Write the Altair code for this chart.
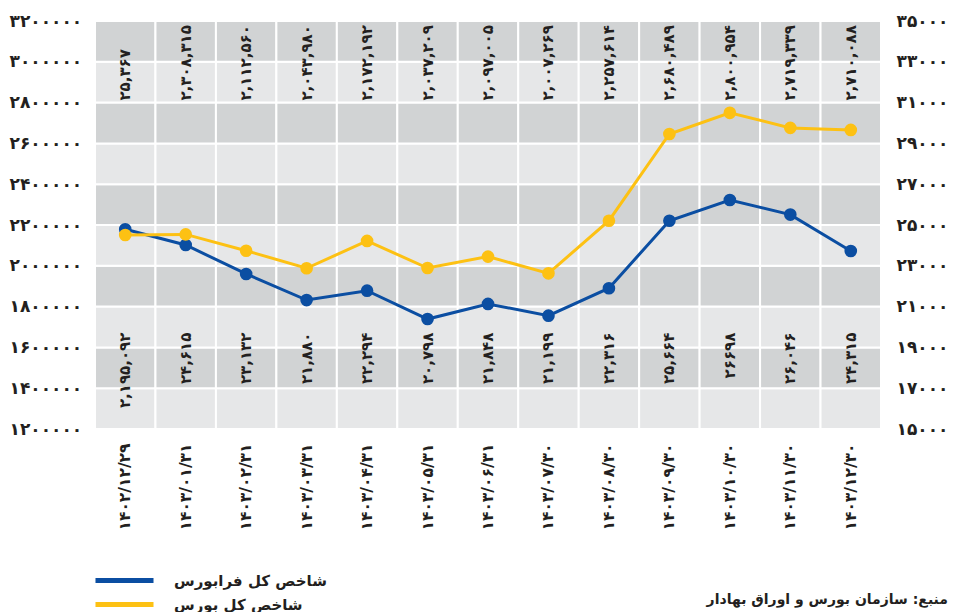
import altair as alt
import pandas as pd

dates = ["۱۴۰۲/۱۲/۲۹", "۱۴۰۳/۰۱/۳۱", "۱۴۰۳/۰۲/۳۱", "۱۴۰۳/۰۳/۳۱", "۱۴۰۳/۰۴/۳۱",
         "۱۴۰۳/۰۵/۳۱", "۱۴۰۳/۰۶/۳۱", "۱۴۰۳/۰۷/۳۰", "۱۴۰۳/۰۸/۳۰", "۱۴۰۳/۰۹/۳۰",
         "۱۴۰۳/۱۰/۳۰", "۱۴۰۳/۱۱/۳۰", "۱۴۰۳/۱۲/۳۰"]

# values
farabourse_values = [24790, 24020, 22600, 21320, 21780, 20390, 21130, 20555, 21900,
                     25210, 26225, 25510, 23725]
bourse_values = [2151000, 2154000, 2074000, 1988000, 2122000, 1989000, 2045000,
                 1963000, 2221000, 2646000, 2750000, 2676000, 2666000]

top_labels = ["۲۵,۳۶۷", "۲,۳۰۸,۳۱۵", "۲,۱۱۲,۵۶۰", "۲,۰۴۳,۹۸۰", "۲,۱۷۲,۱۹۲",
              "۲,۰۳۷,۲۰۹", "۲,۰۹۷,۰۰۵", "۲,۰۰۷,۲۶۹", "۲,۲۵۷,۶۱۴", "۲,۶۸۰,۴۸۹",
              "۲,۸۰۰,۹۵۴", "۲,۷۱۹,۳۳۹", "۲,۷۱۰,۰۸۸"]
bottom_labels = ["۲,۱۹۵,۰۹۲", "۲۴,۶۱۵", "۲۳,۱۳۲", "۲۱,۸۸۰", "۲۲,۲۹۴", "۲۰,۷۹۸",
                 "۲۱,۸۴۸", "۲۱,۱۹۹", "۲۲,۳۱۶", "۲۵,۶۶۴", "۲۶۶۹۸", "۲۶,۰۴۶", "۲۴,۳۱۵"]

left_ticks = [1200000, 1400000, 1600000, 1800000, 2000000, 2200000, 2400000,
              2600000, 2800000, 3000000, 3200000]
left_tick_labels = ["۱۲۰۰۰۰۰", "۱۴۰۰۰۰۰", "۱۶۰۰۰۰۰", "۱۸۰۰۰۰۰", "۲۰۰۰۰۰۰", "۲۲۰۰۰۰۰",
                    "۲۴۰۰۰۰۰", "۲۶۰۰۰۰۰", "۲۸۰۰۰۰۰", "۳۰۰۰۰۰۰", "۳۲۰۰۰۰۰"]
right_ticks = [15000, 17000, 19000, 21000, 23000, 25000, 27000, 29000, 31000, 33000, 35000]
right_tick_labels = ["۱۵۰۰۰", "۱۷۰۰۰", "۱۹۰۰۰", "۲۱۰۰۰", "۲۳۰۰۰", "۲۵۰۰۰",
                     "۲۷۰۰۰", "۲۹۰۰۰", "۳۱۰۰۰", "۳۳۰۰۰", "۳۵۰۰۰"]

series_names = ["شاخص کل فرابورس", "شاخص کل بورس"]
series_colors = ["#0b4ea2", "#fdc113"]
band_shades = ["#e6e7e8", "#d1d3d4"]
source_text = ["منبع: سازمان بورس و اوراق بهادار"]

FONT = "DejaVu Sans"
TXT = "#231f20"


def label_expr(ticks, labels):
    expr = "''"
    for t, l in reversed(list(zip(ticks, labels))):
        expr = f"datum.value == {t} ? '{l}' : ({expr})"
    return expr


# background cells
cells = pd.DataFrame([
    {"date": d, "y0": left_ticks[i], "y1": left_ticks[i + 1], "shade": band_shades[i % 2]}
    for d in dates for i in range(len(left_ticks) - 1)
])
lab_df = pd.DataFrame({"date": dates, "top": top_labels, "bottom": bottom_labels})
blue_df = pd.DataFrame({"date": dates, "value": farabourse_values, "series": series_names[0]})
yel_df = pd.DataFrame({"date": dates, "value": bourse_values, "series": series_names[1]})
src_df = pd.DataFrame({"t": source_text})

x_axis = alt.Axis(title=None, labelAngle=270, domain=False, ticks=False, grid=False,
                  labelPadding=14, labelFontSize=15.5, labelFont=FONT,
                  labelFontWeight="bold", labelColor=TXT)
x_enc = alt.X("date:N", sort=dates, scale=alt.Scale(paddingInner=0, paddingOuter=0),
              axis=x_axis)

left_scale = alt.Scale(domain=[1200000, 3200000], nice=False, zero=False)
right_scale = alt.Scale(domain=[15000, 35000], nice=False, zero=False)

# legend symbol: a horizontal stroke three times wider than the symbol box
color_enc = alt.Color(
    "series:N",
    scale=alt.Scale(domain=series_names, range=series_colors),
    legend=alt.Legend(title=None, orient="none", legendX=17, legendY=547,
                      direction="vertical", symbolType="M-3,0H3", symbolSize=374,
                      symbolStrokeWidth=5, labelFontSize=15, labelFontWeight="bold",
                      labelFont=FONT, labelColor=TXT, labelOffset=37, rowPadding=1,
                      labelLimit=0, padding=0),
)

rects = alt.Chart(cells).mark_rect(stroke="white", strokeWidth=2).encode(
    x=x_enc,
    y=alt.Y("y0:Q", scale=left_scale,
            axis=alt.Axis(orient="left", values=left_ticks,
                          labelExpr=label_expr(left_ticks, left_tick_labels),
                          title=None, domain=False, ticks=False, grid=False,
                          labelAlign="left", labelPadding=86, labelFlush=False,
                          labelFontSize=17, labelFontWeight="bold", labelFont=FONT,
                          labelColor=TXT)),
    y2="y1:Q",
    fill=alt.Fill("shade:N", scale=None),
)

top_text = alt.Chart(lab_df).mark_text(
    angle=270, align="left", baseline="middle", dx=2, fontSize=15,
    font=FONT, fontWeight="bold", color=TXT
).encode(x=x_enc, y=alt.datum(2800000), text="top:N")

bottom_text = alt.Chart(lab_df).mark_text(
    angle=270, align="right", baseline="middle", dx=-26, fontSize=15,
    font=FONT, fontWeight="bold", color=TXT
).encode(x=x_enc, y=alt.datum(1800000), text="bottom:N")

source = alt.Chart(src_df).mark_text(
    align="right", baseline="middle", fontSize=14, font=FONT, fontWeight="bold", color=TXT
).encode(text="t:N", x=alt.value(853), y=alt.value(579))

left_group = alt.layer(rects, top_text, bottom_text, source)

blue_y = alt.Y("value:Q", scale=right_scale,
               axis=alt.Axis(orient="right", values=right_ticks,
                             labelExpr=label_expr(right_ticks, right_tick_labels),
                             title=None, domain=False, ticks=False, grid=False,
                             labelPadding=15, labelFlush=False, labelFontSize=17,
                             labelFontWeight="bold", labelFont=FONT, labelColor=TXT))
blue_base = alt.Chart(blue_df).encode(x=x_enc, y=blue_y, color=color_enc)
blue = alt.layer(blue_base.mark_line(strokeWidth=3),
                 blue_base.mark_circle(size=160, opacity=1))

yel_y = alt.Y("value:Q", scale=left_scale, axis=None)
yel_base = alt.Chart(yel_df).encode(x=x_enc, y=yel_y, color=color_enc)
yellow = alt.layer(yel_base.mark_line(strokeWidth=3),
                   yel_base.mark_circle(size=160, opacity=1))

chart = alt.layer(left_group, blue, yellow).resolve_scale(y="independent").properties(
    width=786, height=408,
    autosize=alt.AutoSizeParams(type="none"),
    padding={"left": 87, "top": 13, "right": 69, "bottom": 183},
).configure_view(stroke=None)

chart.save("out.html", embed_options={"renderer": "svg", "actions": False})
